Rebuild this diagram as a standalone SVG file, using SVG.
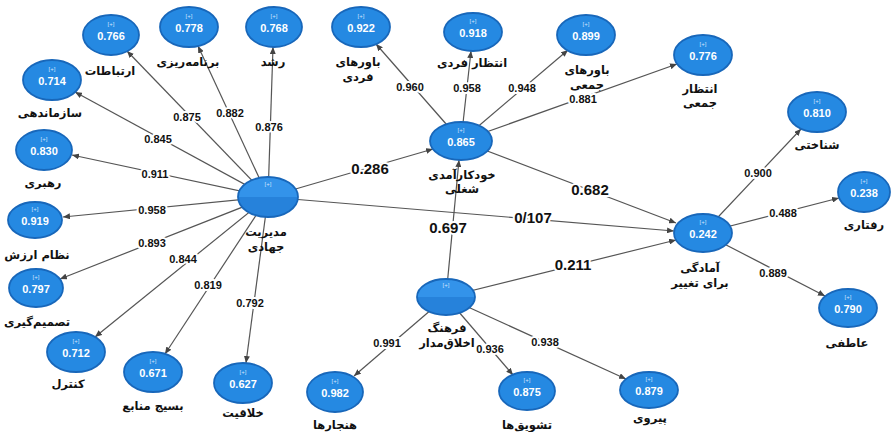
<svg xmlns="http://www.w3.org/2000/svg" width="891" height="432" viewBox="0 0 891 432">
<style>
.nd{fill:#2589e2;stroke:#1867ba;stroke-width:1.8}
.pl{font-family:"Liberation Sans",Arial,sans-serif;font-size:6px;fill:#cfe6ff;text-anchor:middle}
.vl{font-family:"Liberation Sans",Arial,sans-serif;font-size:11px;font-weight:bold;fill:#ffffff;text-anchor:middle}
.lb{font-family:"DejaVu Sans","Noto Sans",sans-serif;font-size:11.5px;font-weight:bold;fill:#111;text-anchor:middle}
.ed{stroke:#555;stroke-width:1.2;fill:none;marker-end:url(#ah)}
.el{font-family:"Liberation Sans",Arial,sans-serif;font-size:11px;font-weight:bold;fill:#111;text-anchor:middle;stroke:#fff;stroke-width:4;paint-order:stroke;stroke-linejoin:round}
.eb{font-size:15px}
</style>
<defs>
<marker id="ah" markerWidth="7" markerHeight="6" refX="7" refY="3" orient="auto" markerUnits="userSpaceOnUse">
<path d="M0,0 L7,3 L0,6 z" fill="#444"/>
</marker>
<linearGradient id="mg" x1="0" y1="0" x2="0" y2="1">
<stop offset="0" stop-color="#3393ea"/>
<stop offset="0.5" stop-color="#3393ea"/>
<stop offset="0.5" stop-color="#2682db"/>
<stop offset="1" stop-color="#2682db"/>
</linearGradient>
</defs>
<rect width="891" height="432" fill="#ffffff"/>

<g id="connectors">
<line class="ed" x1="268" y1="197" x2="127" y2="51"/>
<line class="ed" x1="268" y1="197" x2="198" y2="46"/>
<line class="ed" x1="268" y1="197" x2="273" y2="47"/>
<line class="ed" x1="268" y1="197" x2="75" y2="92"/>
<line class="ed" x1="268" y1="197" x2="72" y2="155"/>
<line class="ed" x1="268" y1="197" x2="63" y2="217"/>
<line class="ed" x1="268" y1="197" x2="60" y2="279"/>
<line class="ed" x1="268" y1="197" x2="95" y2="337"/>
<line class="ed" x1="268" y1="197" x2="165" y2="354"/>
<line class="ed" x1="268" y1="197" x2="246" y2="363"/>
<line class="ed" x1="268" y1="197" x2="433" y2="149"/>
<line class="ed" x1="268" y1="197" x2="674" y2="231"/>
<line class="ed" x1="461" y1="141" x2="376" y2="44"/>
<line class="ed" x1="461" y1="141" x2="471" y2="51"/>
<line class="ed" x1="461" y1="141" x2="568" y2="50"/>
<line class="ed" x1="461" y1="141" x2="677" y2="64"/>
<line class="ed" x1="461" y1="141" x2="676" y2="223"/>
<line class="ed" x1="446" y1="297" x2="459" y2="160"/>
<line class="ed" x1="446" y1="297" x2="676" y2="240"/>
<line class="ed" x1="446" y1="297" x2="354" y2="376"/>
<line class="ed" x1="446" y1="297" x2="513" y2="375"/>
<line class="ed" x1="446" y1="297" x2="626" y2="379"/>
<line class="ed" x1="703" y1="233" x2="801" y2="129"/>
<line class="ed" x1="703" y1="233" x2="839" y2="198"/>
<line class="ed" x1="703" y1="233" x2="825" y2="296"/>
<text class="el" x="187" y="121">0.875</text>
<text class="el" x="230" y="117">0.882</text>
<text class="el" x="269" y="131">0.876</text>
<text class="el" x="158" y="143">0.845</text>
<text class="el" x="155" y="178">0.911</text>
<text class="el" x="152" y="214">0.958</text>
<text class="el" x="152" y="247">0.893</text>
<text class="el" x="183" y="263">0.844</text>
<text class="el" x="208" y="289">0.819</text>
<text class="el" x="250" y="307">0.792</text>
<text class="el" x="410" y="91">0.960</text>
<text class="el" x="467" y="92">0.958</text>
<text class="el" x="522" y="92">0.948</text>
<text class="el" x="583" y="103">0.881</text>
<text class="el" x="758" y="177">0.900</text>
<text class="el" x="783" y="217">0.488</text>
<text class="el" x="773" y="277">0.889</text>
<text class="el" x="387" y="347">0.991</text>
<text class="el" x="490" y="353">0.936</text>
<text class="el" x="545" y="346">0.938</text>
<text class="el eb" x="370" y="174">0.286</text>
<text class="el eb" x="533" y="223">0/107</text>
<text class="el eb" x="448" y="233">0.697</text>
<text class="el eb" x="573" y="270">0.211</text>
<text class="el eb" x="590" y="195">0.682</text>
</g>

<g id="n-ertebatat"><ellipse class="nd" cx="111" cy="35" rx="28" ry="20"/><text class="pl" x="111" y="26">[+]</text><text class="vl" x="111" y="40">0.766</text><text class="lb" x="110" y="75">ارتباطات</text></g>
<g id="n-barnameh"><ellipse class="nd" cx="189" cy="27" rx="29" ry="20"/><text class="pl" x="189" y="18">[+]</text><text class="vl" x="189" y="32">0.778</text><text class="lb" x="188" y="66">برنامه‌ریزی</text></g>
<g id="n-roshd"><ellipse class="nd" cx="274" cy="27" rx="28" ry="20"/><text class="pl" x="274" y="18">[+]</text><text class="vl" x="274" y="32">0.768</text><text class="lb" x="273" y="66">رشد</text></g>
<g id="n-sazmandehi"><ellipse class="nd" cx="52" cy="80" rx="29" ry="20"/><text class="pl" x="52" y="71">[+]</text><text class="vl" x="52" y="85">0.714</text><text class="lb" x="50" y="117">سازماندهی</text></g>
<g id="n-rahbari"><ellipse class="nd" cx="44" cy="150" rx="28" ry="20"/><text class="pl" x="44" y="141">[+]</text><text class="vl" x="44" y="155">0.830</text><text class="lb" x="43" y="187">رهبری</text></g>
<g id="n-nezam"><ellipse class="nd" cx="35" cy="220" rx="27" ry="18"/><text class="pl" x="35" y="211">[+]</text><text class="vl" x="35" y="225">0.919</text><text class="lb" x="37" y="259">نظام ارزش</text></g>
<g id="n-tasmim"><ellipse class="nd" cx="36" cy="288" rx="27" ry="19"/><text class="pl" x="36" y="279">[+]</text><text class="vl" x="36" y="293">0.797</text><text class="lb" x="37" y="326">تصمیم‌گیری</text></g>
<g id="n-kontrol"><ellipse class="nd" cx="76" cy="352" rx="29" ry="20"/><text class="pl" x="76" y="343">[+]</text><text class="vl" x="76" y="357">0.712</text><text class="lb" x="68" y="388">کنترل</text></g>
<g id="n-basij"><ellipse class="nd" cx="153" cy="372" rx="29" ry="20"/><text class="pl" x="153" y="363">[+]</text><text class="vl" x="153" y="377">0.671</text><text class="lb" x="153" y="410">بسیج منابع</text></g>
<g id="n-khalaghiat"><ellipse class="nd" cx="243" cy="383" rx="29" ry="20"/><text class="pl" x="243" y="374">[+]</text><text class="vl" x="243" y="388">0.627</text><text class="lb" x="243" y="417">خلاقیت</text></g>
<g id="n-modiriat"><ellipse cx="268" cy="197" rx="30" ry="20" fill="url(#mg)" stroke="#1867ba" stroke-width="1.8"/><text class="pl" x="268" y="186">[+]</text><text class="lb" x="266" y="236">مدیریت</text><text class="lb" x="266" y="251">جهادی</text></g>
<g id="n-bavar-fardi"><ellipse class="nd" cx="361" cy="27" rx="29" ry="20"/><text class="pl" x="361" y="18">[+]</text><text class="vl" x="361" y="32">0.922</text><text class="lb" x="358" y="66">باورهای</text><text class="lb" x="358" y="81">فردی</text></g>
<g id="n-entezar-fardi"><ellipse class="nd" cx="473" cy="32" rx="29" ry="19"/><text class="pl" x="473" y="23">[+]</text><text class="vl" x="473" y="37">0.918</text><text class="lb" x="472" y="67">انتظار فردی</text></g>
<g id="n-bavar-jamei"><ellipse class="nd" cx="586" cy="35" rx="29" ry="20"/><text class="pl" x="586" y="26">[+]</text><text class="vl" x="586" y="40">0.899</text><text class="lb" x="587" y="74">باورهای</text><text class="lb" x="587" y="89">جمعی</text></g>
<g id="n-entezar-jamei"><ellipse class="nd" cx="703" cy="55" rx="29" ry="20"/><text class="pl" x="703" y="46">[+]</text><text class="vl" x="703" y="60">0.776</text><text class="lb" x="700" y="93">انتظار</text><text class="lb" x="700" y="107">جمعی</text></g>
<g id="n-khodkaramadi"><ellipse class="nd" cx="461" cy="141" rx="31" ry="19"/><text class="pl" x="461" y="132">[+]</text><text class="vl" x="461" y="146">0.865</text><text class="lb" x="462" y="179">خودکارآمدی</text><text class="lb" x="462" y="193">شغلی</text></g>
<g id="n-farhang"><ellipse cx="446" cy="297" rx="29" ry="18" fill="url(#mg)" stroke="#1867ba" stroke-width="1.8"/><text class="pl" x="446" y="287">[+]</text><text class="lb" x="447" y="332">فرهنگ</text><text class="lb" x="447" y="347">اخلاق‌مدار</text></g>
<g id="n-hanjarha"><ellipse class="nd" cx="335" cy="392" rx="28" ry="20"/><text class="pl" x="335" y="383">[+]</text><text class="vl" x="335" y="397">0.982</text><text class="lb" x="335" y="429">هنجارها</text></g>
<g id="n-tashvighha"><ellipse class="nd" cx="527" cy="391" rx="28" ry="19"/><text class="pl" x="527" y="382">[+]</text><text class="vl" x="527" y="396">0.875</text><text class="lb" x="527" y="429">تشویق‌ها</text></g>
<g id="n-peyravi"><ellipse class="nd" cx="649" cy="390" rx="29" ry="18"/><text class="pl" x="649" y="381">[+]</text><text class="vl" x="649" y="395">0.879</text><text class="lb" x="650" y="422">پیروی</text></g>
<g id="n-amadegi"><ellipse class="nd" cx="703" cy="233" rx="29" ry="19"/><text class="pl" x="703" y="224">[+]</text><text class="vl" x="703" y="238">0.242</text><text class="lb" x="700" y="272">آمادگی</text><text class="lb" x="700" y="287">برای تغییر</text></g>
<g id="n-shenakhti"><ellipse class="nd" cx="817" cy="112" rx="29" ry="20"/><text class="pl" x="817" y="103">[+]</text><text class="vl" x="817" y="117">0.810</text><text class="lb" x="817" y="149">شناختی</text></g>
<g id="n-raftari"><ellipse class="nd" cx="864" cy="192" rx="26" ry="20"/><text class="pl" x="864" y="183">[+]</text><text class="vl" x="864" y="197">0.238</text><text class="lb" x="864" y="229">رفتاری</text></g>
<g id="n-atefi"><ellipse class="nd" cx="848" cy="308" rx="29" ry="19"/><text class="pl" x="848" y="299">[+]</text><text class="vl" x="848" y="313">0.790</text><text class="lb" x="847" y="347">عاطفی</text></g>
</svg>
